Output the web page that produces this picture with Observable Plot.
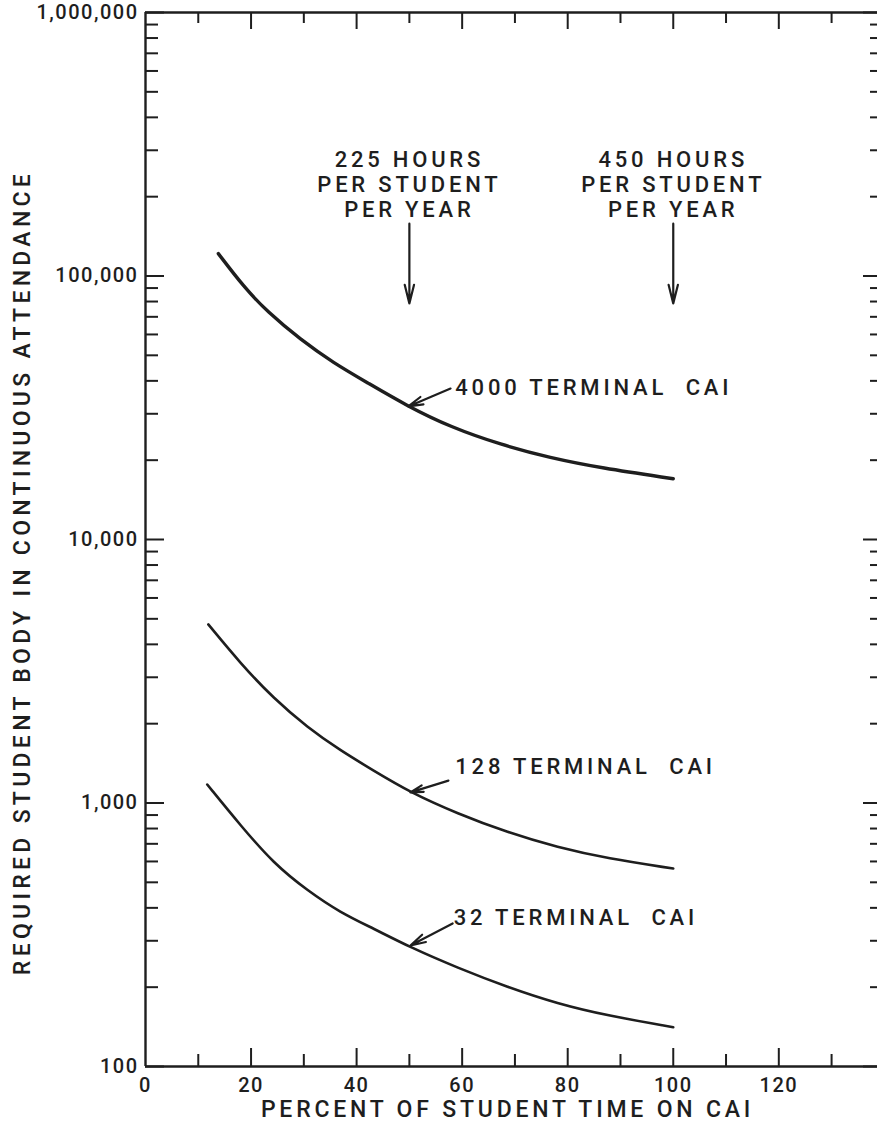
<!DOCTYPE html>
<html><head><meta charset="utf-8">
<script src="https://cdn.jsdelivr.net/npm/d3@7"></script>
<script src="https://cdn.jsdelivr.net/npm/@observablehq/plot@0.6"></script>
<style>
html,body{margin:0;padding:0;background:#fff;}
#chart svg{display:block;}
</style></head><body><div id="chart"></div>
<script>
// ---- data ----
const percent4000 = [13.8, 18.6, 23.1, 29.4, 35.6, 42.1, 49.6, 57.8, 67.3, 76.7, 86.2, 100];
const students4000 = [121600, 91000, 73100, 57300, 46800, 39300, 32100, 26700, 22900, 20400, 18700, 17000];

const percent128 = [11.9, 18.0, 24.3, 30.7, 36.9, 43.2, 50.2, 59.1, 68.6, 78.1, 87.5, 100];
const students128 = [4760, 3385, 2490, 1935, 1583, 1328, 1096, 912, 773, 678, 616, 564];

const percent32 = [11.7, 18.0, 24.3, 30.7, 36.9, 43.2, 50.2, 59.1, 68.6, 78.1, 87.5, 100];
const students32 = [1175, 822, 589, 465, 384, 334, 283, 237, 200, 173, 156, 141];

const seriesNames = ["4000 TERMINAL  CAI", "128 TERMINAL  CAI", "32 TERMINAL  CAI"];

// tick values and labels
const xMajorTicks = [0, 20, 40, 60, 80, 100, 120];
const xMinorTicks = [10, 30, 50, 70, 90, 110, 130];
const yMajorTicks = [100, 1000, 10000, 100000, 1000000];
const yTickLabels = ["100", "1,000", "10,000", "100,000", "1,000,000"];
const yDecades = [100, 1000, 10000, 100000];
const yMinorMultipliers = [2, 3, 4, 5, 6, 7, 8, 9];

// annotations
const hourNotes = ["225 HOURS\nPER STUDENT\nPER YEAR", "450 HOURS\nPER STUDENT\nPER YEAR"];
const hourNoteX = [50, 100];
const hourNoteY = [224000, 224000];
const hourArrowY1 = [158000, 158000];
const hourArrowY2 = [78700, 78700];

const labelX = [58.7, 58.7, 58.4];
const labelY = [37600, 1365, 365];
const labelArrowX1 = [57.8, 57.4, 58.2];
const labelArrowY1 = [37400, 1216, 349];
const labelArrowX2 = [49.8, 50.2, 50.2];
const labelArrowY2 = [32000, 1097, 288];

// ---- build tables ----
const curves = [
  ...percent4000.map((p, i) => ({series: seriesNames[0], pct: p, n: students4000[i]})),
  ...percent128.map((p, i) => ({series: seriesNames[1], pct: p, n: students128[i]})),
  ...percent32.map((p, i) => ({series: seriesNames[2], pct: p, n: students32[i]}))
];
const yMinorTicks = yDecades.flatMap(d => yMinorMultipliers.map(m => d * m));
const hourTable = hourNotes.map((t, i) => ({t, x: hourNoteX[i], y: hourNoteY[i], y1: hourArrowY1[i], y2: hourArrowY2[i]}));
const labelTable = seriesNames.map((t, i) => ({t, x: labelX[i], y: labelY[i], x1: labelArrowX1[i], y1: labelArrowY1[i], x2: labelArrowX2[i], y2: labelArrowY2[i]}));

const W = 877, H = 1134;
const mL = 145, mR = 0, mT = 12, mB = 68;
const plotW = W - mL - mR, plotH = H - mT - mB;
const ink = "#1e1e1e";
const font = "Roboto, 'DejaVu Sans', sans-serif";

const chart = Plot.plot({
  width: W, height: H,
  marginLeft: mL, marginRight: mR, marginTop: mT, marginBottom: mB,
  x: {domain: [0, 138.7]},
  y: {type: "log", domain: [100, 1000000]},
  style: {fontFamily: font, fontWeight: 500, color: ink, background: "#fff", letterSpacing: "3.8px", overflow: "visible"},
  marks: [
    // frame lines
    Plot.ruleX([0], {stroke: ink, strokeWidth: 2.4}),
    Plot.ruleY([100], {stroke: ink, strokeWidth: 2.4}),
    Plot.ruleY([1000000], {stroke: ink, strokeWidth: 2.4}),
    // inward ticks: left
    Plot.tickY(yMajorTicks, {y: d => d, insetRight: plotW - 19, stroke: ink, strokeWidth: 2}),
    Plot.tickY(yMinorTicks, {y: d => d, insetRight: plotW - 13, stroke: ink, strokeWidth: 2}),
    // right
    Plot.tickY(yMajorTicks, {y: d => d, insetLeft: plotW - 14, stroke: ink, strokeWidth: 2}),
    Plot.tickY(yMinorTicks, {y: d => d, insetLeft: plotW - 7, stroke: ink, strokeWidth: 2}),
    // bottom
    Plot.tickX(xMajorTicks.slice(1), {x: d => d, insetTop: plotH - 18, stroke: ink, strokeWidth: 2}),
    Plot.tickX(xMinorTicks, {x: d => d, insetTop: plotH - 12, stroke: ink, strokeWidth: 2}),
    // top
    Plot.tickX(xMajorTicks.slice(1), {x: d => d, insetBottom: plotH - 17, stroke: ink, strokeWidth: 2}),
    Plot.tickX(xMinorTicks, {x: d => d, insetBottom: plotH - 11, stroke: ink, strokeWidth: 2}),
    // axes (labels only)
    Plot.axisY({ticks: yMajorTicks, tickFormat: d => yTickLabels[yMajorTicks.indexOf(d)], tickSize: 0, tickPadding: 7, fontSize: 20, label: null}),
    Plot.axisX({ticks: xMajorTicks, tickFormat: d => String(d), tickSize: 0, tickPadding: 11, fontSize: 20, label: null}),
    // axis titles
    Plot.text(["PERCENT OF STUDENT TIME ON CAI"], {frameAnchor: "bottom", lineAnchor: "bottom", dy: 50, dx: -4, fontSize: 23, fill: ink, textAnchor: "middle"}),
    Plot.text(["REQUIRED STUDENT BODY IN CONTINUOUS ATTENDANCE"], {frameAnchor: "left", textAnchor: "middle", rotate: -90, dx: -123, dy: 33, fontSize: 23, fill: ink}),
    // curves
    Plot.line(curves, {x: "pct", y: "n", z: "series", curve: "basis", stroke: ink,
      strokeWidth: d => d.series === seriesNames[0] ? 3.4 : 2.6}),
    // hour annotations
    Plot.text(hourTable, {x: "x", y: "y", text: "t", fontSize: 22, lineHeight: 1.14, fill: ink, textAnchor: "middle"}),
    Plot.arrow(hourTable, {x1: "x", x2: "x", y1: "y1", y2: "y2", stroke: ink, strokeWidth: 2.2, headLength: 13, headAngle: 28}),
    // series labels
    Plot.text(labelTable, {x: "x", y: "y", text: "t", fontSize: 22, textAnchor: "start", fill: ink}),
    Plot.arrow(labelTable, {x1: "x1", y1: "y1", x2: "x2", y2: "y2", stroke: ink, strokeWidth: 2.2, headLength: 12, headAngle: 30})
  ]
});

// letter spacing tweaks
d3.select(chart).selectAll('[aria-label$="tick label"] text').attr("letter-spacing", "1.5px");
d3.select(chart).selectAll("text").filter(function() { return this.textContent.startsWith("REQUIRED"); }).attr("letter-spacing", "4.3px");
document.getElementById("chart").appendChild(chart);
</script>
</body></html>
